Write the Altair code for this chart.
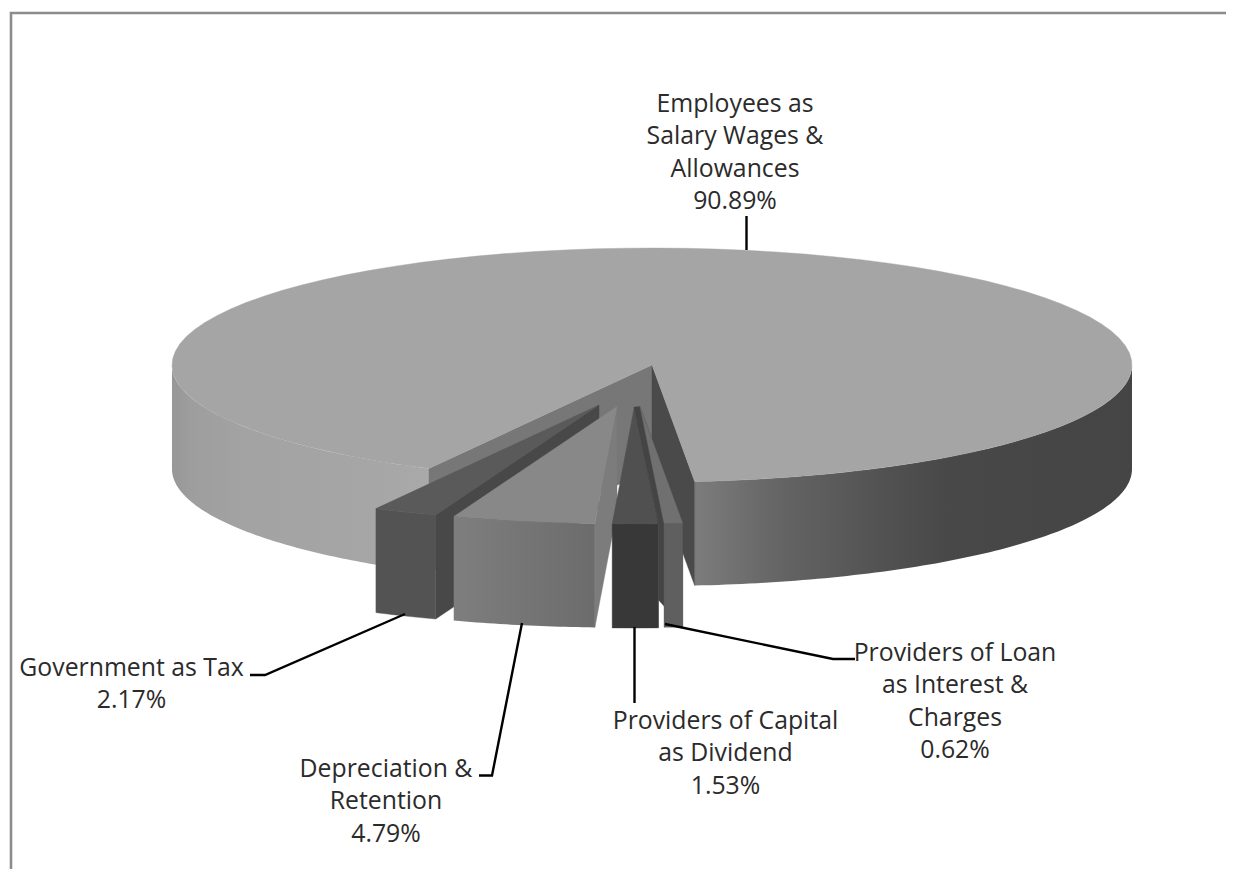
import math
import altair as alt
import pandas as pd

# ---- chart values ----
names = ["Employees as Salary Wages & Allowances", "Government as Tax", "Depreciation & Retention",
         "Providers of Capital as Dividend", "Providers of Loan as Interest & Charges"]
shares = [90.89, 2.17, 4.79, 1.53, 0.62]
label_lines = [
    ["Employees as", "Salary Wages &", "Allowances", "90.89%"],
    ["Government as Tax", "2.17%"],
    ["Depreciation &", "Retention", "4.79%"],
    ["Providers of Capital", "as Dividend", "1.53%"],
    ["Providers of Loan", "as Interest &", "Charges", "0.62%"],
]

# ---- layout (page pixels) ----
W, H = 1218, 861
OFF = 8
CX, CY, RX, RY, DEPTH = 652, 365, 480, 117, 104
START = -5.1
apex_shift = {1: (-53, 40), 2: (-35, 41.5), 3: (-17.7, 42), 4: (-12, 41.5)}
label_pos = [(735, 104.5), (131.5, 668.8), (386, 769.5), (725.5, 721.8), (955, 653.8)]
LINE_STEP = 32.5
leaders = [
    [(746.5, 216), (746.5, 250)],
    [(250, 675), (265, 675), (405, 614)],
    [(479, 775.5), (492, 775.5), (522, 623)],
    [(634.5, 627), (634.5, 703)],
    [(665, 624), (833, 659), (855, 659)],
]

# angle measured from the pie's front point, positive toward the left
edges = {4: START}
edges[3] = edges[4] + shares[4] * 3.6
edges[2] = edges[3] + shares[3] * 3.6
edges[1] = edges[2] + shares[2] * 3.6
main_start = edges[1] + shares[1] * 3.6
ang_hi = {4: edges[3], 3: edges[2], 2: edges[1], 1: main_start}
ang_lo = {4: edges[4], 3: edges[3], 2: edges[2], 1: edges[1]}


def pt(t, cx=CX, cy=CY):
    r = math.radians(t)
    return (cx - RX * math.sin(r), cy + RY * math.cos(r))


def arc(a, b, cx=CX, cy=CY, n=90):
    return [pt(a + (b - a) * i / n, cx, cy) for i in range(n + 1)]


def down(points):
    return [(x, y + DEPTH) for x, y in points]


def poly(points, fill):
    ring = [list(p) for p in points] + [list(points[0])]
    feature = {"type": "Feature", "properties": {},
               "geometry": {"type": "Polygon", "coordinates": [ring]}}
    return (
        alt.Chart(alt.Data(values=[feature]))
        .mark_geoshape(fill=fill, stroke=fill if isinstance(fill, str) else None,
                       strokeWidth=0.4 if isinstance(fill, str) else 0)
        .project(type="identity", scale=1, translate=[-OFF, -OFF])
    )


def grad(stops):
    return alt.LinearGradient(
        gradient="linear", x1=0, x2=1, y1=0, y2=0,
        stops=[alt.GradientStop(offset=o, color=c) for o, c in stops],
    )


layers = []

# main slice: outer walls
left = arc(main_start, 90)
layers.append(poly(left + down(left)[::-1], grad(
    [(0, "#979797"), (0.08, "#9e9e9e"), (0.3, "#a3a3a3"), (0.7, "#a5a5a5"), (1, "#a9a9a9")])))
right = arc(START, -90)
layers.append(poly(right + down(right)[::-1], grad(
    [(0, "#7c7c7c"), (0.2, "#646464"), (0.43, "#525252"), (0.58, "#484848"), (1, "#454545")])))
# main slice: cut faces
centre = (CX, CY)
lp = pt(main_start)
rp = pt(START)
layers.append(poly([centre, lp, (lp[0], lp[1] + DEPTH), (CX, CY + DEPTH)], "#777777"))
layers.append(poly([centre, rp, (rp[0], rp[1] + DEPTH), (CX, CY + DEPTH)], "#4a4a4a"))
# main slice: top
layers.append(poly([centre] + arc(main_start, 360 + START), "#a5a5a5"))

styles = {
    1: dict(top="#5a5a5a", wall="#535353", cut="#484848"),
    2: dict(top="#888888", wall=grad([(0, "#7e7e7e"), (1, "#6c6c6c")]), cut="#7c7c7c"),
    3: dict(top="#505050", wall="#383838", cut="#444444"),
    4: dict(top="#707070", wall="#5f5f5f", cut="#444444"),
}
for i in (1, 2, 3, 4):
    dx, dy = apex_shift[i]
    ax, ay = CX + dx, CY + dy
    a = arc(ang_lo[i], ang_hi[i], ax, ay, 24)
    lo = a[0]
    s = styles[i]
    if i == 4:
        # inner dark sliver between the capital and loan slices
        cdx, cdy = apex_shift[3]
        ca = CX + cdx, CY + cdy
        cc = pt(ang_lo[3], *ca)
        layers.append(poly([ca, (ax, ay), lo, (lo[0], lo[1] + DEPTH),
                            (cc[0], cc[1] + 76), cc], s["cut"]))
    else:
        layers.append(poly([(ax, ay), lo, (lo[0], lo[1] + DEPTH), (ax, ay + DEPTH)], s["cut"]))
    layers.append(poly(a + down(a)[::-1], s["wall"]))
    layers.append(poly([(ax, ay)] + a, s["top"]))

x_scale = alt.Scale(domain=[OFF, OFF + W], range=[0, W])
y_scale = alt.Scale(domain=[OFF, OFF + H], range=[0, H])

# frame
frame = pd.DataFrame({"x": [11, 11, OFF + W], "y": [OFF + H, 13, 13], "o": [0, 1, 2]})
layers.append(
    alt.Chart(frame).mark_line(color="#8c8c8c", strokeWidth=2.6, strokeJoin="miter").encode(
        x=alt.X("x:Q", scale=x_scale, axis=None), y=alt.Y("y:Q", scale=y_scale, axis=None), order="o:Q")
)

# leaders
rows = []
for k, line in enumerate(leaders):
    for j, (x, y) in enumerate(line):
        rows.append({"k": k, "j": j, "x": x, "y": y})
layers.append(
    alt.Chart(pd.DataFrame(rows)).mark_line(color="#000000", strokeWidth=2.4, strokeJoin="miter").encode(
        x=alt.X("x:Q", scale=x_scale, axis=None), y=alt.Y("y:Q", scale=y_scale, axis=None),
        detail="k:N", order="j:Q")
)

# labels
rows = []
for (x, y), lines in zip(label_pos, label_lines):
    for j, t in enumerate(lines):
        rows.append({"x": x, "y": y + j * LINE_STEP, "t": t})
layers.append(
    alt.Chart(pd.DataFrame(rows)).mark_text(
        font="Open Sans", fontSize=24.8, color="#2b2b2b", align="center", baseline="middle"
    ).encode(
        x=alt.X("x:Q", scale=x_scale, axis=None), y=alt.Y("y:Q", scale=y_scale, axis=None), text="t:N")
)

chart = (
    alt.layer(*layers)
    .resolve_scale(x="shared", y="shared")
    .properties(width=W, height=H, padding=0, background="#ffffff",
                autosize=alt.AutoSizeParams(type="none"))
    .configure_view(stroke=None)
)
chart.save("out.html", embed_options={"renderer": "svg", "actions": False})
